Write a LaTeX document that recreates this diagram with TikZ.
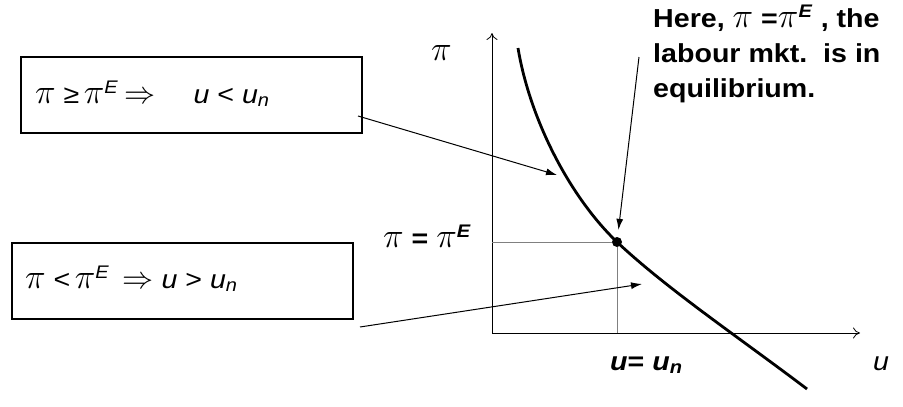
\documentclass[tikz,border=0pt]{standalone}
\usepackage{graphicx}
\usepackage{fontspec}
\setmainfont[FakeStretch=1.1]{Liberation Sans}
\newcommand\pii{\scalebox{1.4}{$\pi$}}
\newcommand\impl{\scalebox{1.25}{$\Rightarrow$}}
\newcommand\supE{\textsuperscript{\textit{E}}}
\usetikzlibrary{arrows.meta}

\begin{document}
\begin{tikzpicture}[x=1pt, y=-1pt,
    box/.style={draw, line width=1.1pt, minimum width=341pt, minimum height=76pt, inner sep=0pt},
    txt/.style={anchor=base west, inner sep=0pt, font=\fontsize{26}{30}\selectfont},
    bold/.style={txt, font=\fontsize{26}{30}\selectfont\bfseries},
    axis/.style={-{To[length=7pt, width=11pt]}, line width=0.8pt},
    guide/.style={line width=0.6pt, gray},
    pointer/.style={-{Latex[length=11pt, width=7pt]}, line width=1pt}]
        \useasboundingbox (0,0) rectangle (903,407);

        % boxes
        \node[box] (high) at (191.5,95) {};
        \node[txt] (hightxt) at (35,103) {\pii\ ≥\,\pii\supE\hspace{6pt}\impl\hspace{38pt}\textit{u} < \textit{u}\textsubscript{\textit{n}}};
        \node[box] (low) at (182.5,281) {};
        \node[txt] (lowtxt) at (25,288) {\pii\ <\,\pii\supE\hspace{13pt}\impl\hspace{8pt}\textit{u} > \textit{u}\textsubscript{\textit{n}}};

        % axes
        \coordinate (o) at (492,333);
        \coordinate (ytop) at (492,33);
        \coordinate (xend) at (860,333);
        \draw[axis] (o) -- (ytop);
        \draw[axis] (o) -- (xend);
        \node[txt] (pi) at (431,60) {\pii};
        \node[txt] (u) at (873,370) {\textit{u}};

        % Phillips curve
        \coordinate (top) at (518,48);
        \coordinate (bot) at (807,389);
        \node[circle, fill, inner sep=0pt, minimum size=10pt] (eq) at (617,242) {};
        \draw[line width=2.8pt] (top) .. controls (530,120) and (570,197) .. (eq.center)
                                      .. controls (667,289) and (737,336) .. (bot);

        % equilibrium
        \coordinate (gy) at (492,242);
        \coordinate (gx) at (617,333);
        \draw[guide] (gy) -- (eq) -- (gx);
        \node[bold] (pieq) at (383,247) {\pii\ = \pii\supE};
        \node[bold] (ueq) at (610,370) {\textit{u}= \textit{u}\textsubscript{\textit{n}}};

        \node[bold] (note1) at (653,27) {Here, \pii\ =\pii\supE\ , the};
        \node[bold] (note2) at (653,62) {labour mkt.\ \ is in};
        \node[bold] (note3) at (653,97) {equilibrium.};

        % pointers
        \coordinate (s1) at (358,116);
        \coordinate (t1) at (557,175);
        \coordinate (s2) at (360,327);
        \coordinate (t2) at (642,284);
        \coordinate (s3) at (639,57);
        \draw[pointer] (s1) -- (t1);
        \draw[pointer] (s2) -- (t2);
        \draw[pointer, shorten >=7pt] (s3) -- (eq);
    \end{tikzpicture}
\end{document}
